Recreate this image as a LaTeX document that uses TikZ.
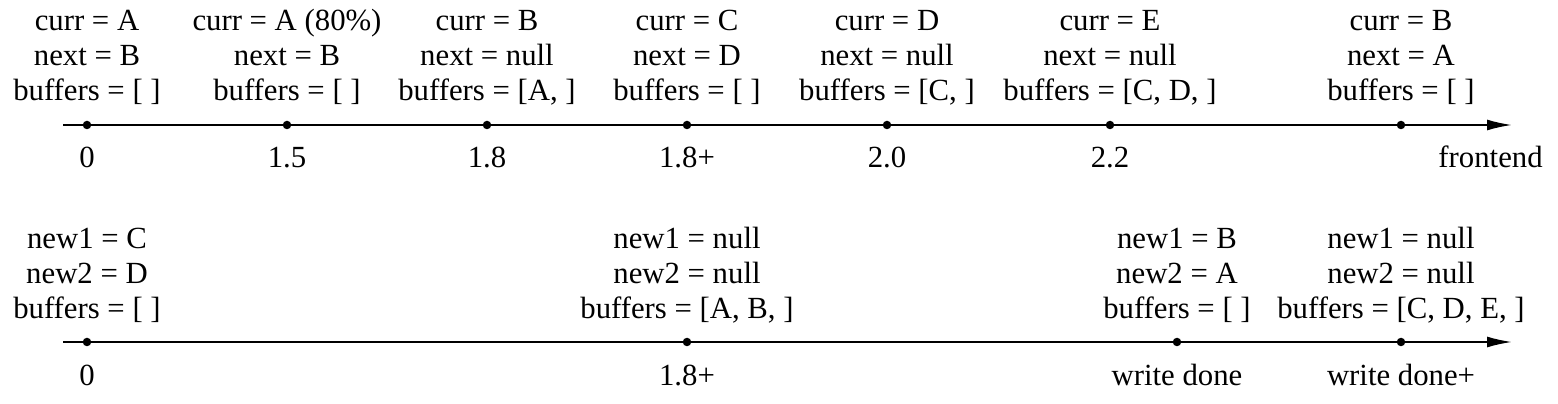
\documentclass[tikz,border=0pt]{standalone}
\usepackage{fontspec}
\setmainfont{Liberation Serif}
\usetikzlibrary{arrows.meta}

\begin{document}
\begin{tikzpicture}[x=1cm,y=1cm,font=\fontsize{17.5pt}{20.2pt}\selectfont,
  dot/.style={circle,fill,inner sep=0pt,minimum size=1.7mm},
  state/.style={align=center,anchor=base,inner sep=0pt},
  tick/.style={anchor=base,inner sep=0pt},
  axis/.style={line width=1.1pt,-{Latex[length=5mm,width=2.2mm]}}]
 \useasboundingbox (0,0) rectangle (31.16,8.08);
 % frontend timeline
 \coordinate (fa) at (1.26,5.58);\coordinate (fb) at (30.24,5.58);
 \draw[axis] (fa)--(fb);
 \foreach \n/\x/\s/\t in {1/1.74/{curr = A\\next = B\\buffers = [ ]}/0,
   2/5.74/{curr = A (80\%)\\next = B\\buffers = [ ]}/1.5,
   3/9.74/{curr = B\\next = null\\buffers = [A, ]}/1.8,
   4/13.74/{curr = C\\next = D\\buffers = [ ]}/1.8+,
   5/17.74/{curr = D\\next = null\\buffers = [C, ]}/2.0,
   6/22.2/{curr = E\\next = null\\buffers = [C, D, ]}/2.2,
   7/28.02/{curr = B\\next = A\\buffers = [ ]}/{}}{
  \node[dot] (f\n) at (\x,5.58) {};
  \node[state] (fs\n) at (\x,6.06) {\s};
  \node[tick] (ft\n) at (\x,4.72) {\t};}
 \node[tick,anchor=base east] (fend) at (30.86,4.72) {frontend};
 % writer timeline
 \coordinate (wa) at (1.26,1.24);\coordinate (wb) at (30.24,1.24);
 \draw[axis] (wa)--(wb);
 \foreach \n/\x/\s/\t in {1/1.74/{new1 = C\\new2 = D\\buffers = [ ]}/0,
   2/13.74/{new1 = null\\new2 = null\\buffers = [A, B, ]}/1.8+,
   3/23.54/{new1 = B\\new2 = A\\buffers = [ ]}/write done,
   4/28.02/{new1 = null\\new2 = null\\buffers = [C, D, E, ]}/write done+}{
  \node[dot] (w\n) at (\x,1.24) {};
  \node[state] (ws\n) at (\x,1.70) {\s};
  \node[tick] (wt\n) at (\x,0.36) {\t};}
\end{tikzpicture}
\end{document}
